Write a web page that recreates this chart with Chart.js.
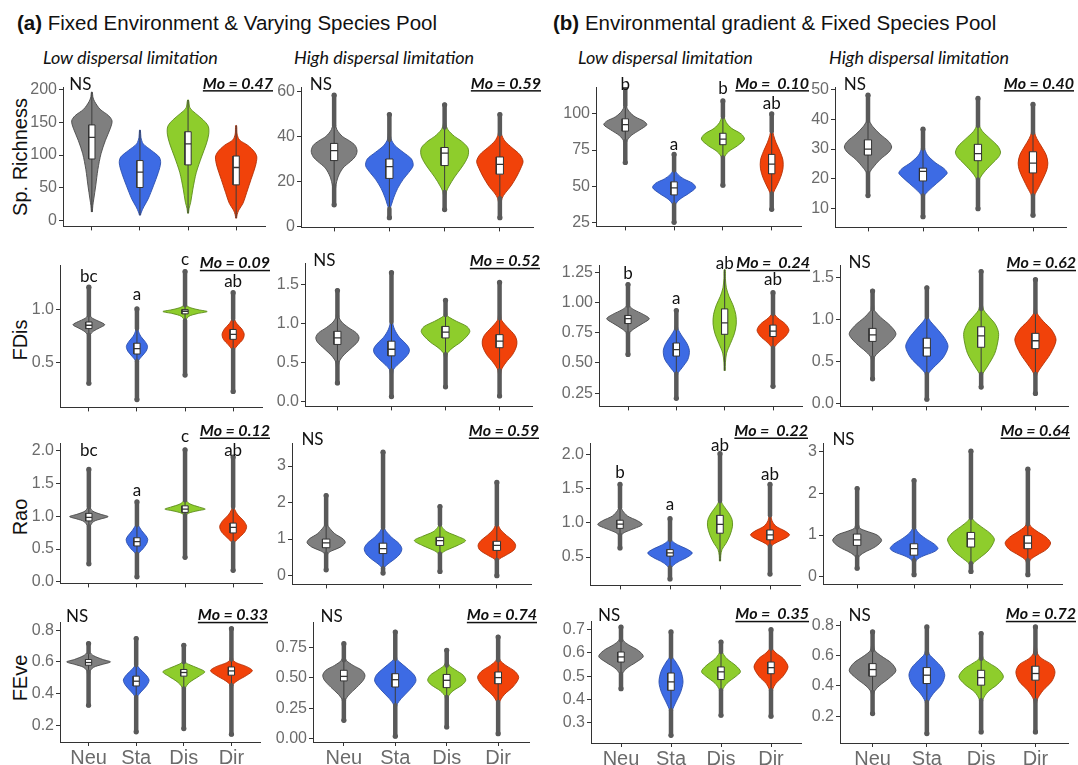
<!DOCTYPE html>
<html><head><meta charset="utf-8">
<script src="https://cdn.jsdelivr.net/npm/chart.js@4.4.0/dist/chart.umd.min.js"></script>
<style>
body{margin:0;background:#fff;width:1078px;height:765px;position:relative;overflow:hidden;font-family:'Liberation Sans',Arial,sans-serif}
.t{position:absolute;white-space:nowrap;color:#111}
.h{font-size:20.5px;line-height:24px;top:11px}
.s{font-family:Lato,sans-serif;font-style:italic;font-size:18px;line-height:22px;top:46px;color:#111}
.yt{font-size:20px;line-height:22px;transform:translate(-50%,-50%) rotate(-90deg);left:20px}
.pn{position:absolute}
</style></head>
<body>
<div class="t h" style="left:17px"><b>(a)</b> Fixed Environment &amp; Varying Species Pool</div>
<div class="t h" style="left:553px"><b>(b)</b> Environmental gradient &amp; Fixed Species Pool</div>
<div class="t s" style="left:43px">Low dispersal limitation</div>
<div class="t s" style="left:294px">High dispersal limitation</div>
<div class="t s" style="left:578px">Low dispersal limitation</div>
<div class="t s" style="left:829px">High dispersal limitation</div>
<div class="t yt" style="top:157px">Sp. Richness</div>
<div class="t yt" style="top:340px">FDis</div>
<div class="t yt" style="top:517px">Rao</div>
<div class="t yt" style="top:678px">FEve</div>
<script>
const groups = ['Neu','Sta','Dis','Dir'];

// ---- Species richness, (a) low / high, (b) low / high ----
// box: [q1, median, q3]; rng: [min, lower whisker, upper whisker, max]; shp: violin outline knots [value, half-width]
const srAL_box = [[94,127,146],[50.5,74,91.6],[85,117,135.6],[54.5,81,98.5]];
const srAL_rng = [[13,13,196,196],[8,8,138,138],[11,11,184,184],[3.5,3.5,145,145]];
const srAL_shp = [
 [[13,.01],[23,.02],[33,.04],[53,.08],[78,.125],[102,.19],[122,.28],[140,.38],[152,.42],[160,.35],[170,.17],[182,.055],[189,.02],[196,.01]],
 [[8,.01],[13,.03],[21,.08],[33,.17],[53,.28],[73,.38],[88,.43],[97,.40],[107,.24],[117,.07],[127,.02],[138,.01]],
 [[11,.01],[18,.02],[28,.055],[48,.10],[73,.17],[97,.28],[117,.38],[132,.43],[144,.42],[154,.31],[164,.15],[172,.04],[184,.01]],
 [[3.5,.01],[9,.02],[16,.055],[26,.14],[43,.22],[63,.31],[83,.40],[97,.43],[105,.38],[115,.24],[123,.07],[132,.02],[145,.01]]];
const srAL_ticks = [0,50,100,150,200];

const srAH_box = [[29.3,33.7,36.9],[21.4,26.6,30],[27.1,32.6,35.1],[23.3,27.6,30.9]];
const srAH_rng = [[9.7,18.3,44.7,58.3],[4,8,38.5,49.7],[7.6,15.4,44,54],[4,12.6,41,49.7]];
const srAH_shp = [
 [[9.7,.012],[14,.015],[18,.03],[22,.07],[26,.16],[29,.3],[31,.38],[33.5,.415],[36,.38],[38,.28],[40,.15],[43,.05],[46,.02],[52,.013],[58.3,.012]],
 [[4,.012],[8,.015],[10,.04],[13,.08],[17,.15],[21,.25],[24,.35],[27,.43],[30,.40],[33,.25],[36,.10],[39,.03],[44,.013],[49.7,.012]],
 [[7.6,.012],[12,.014],[15.4,.03],[18,.08],[22,.18],[26,.3],[29,.38],[32,.43],[35,.42],[38,.3],[40,.18],[43,.06],[46,.02],[54,.012]],
 [[4,.012],[9,.015],[12.6,.04],[15,.1],[18,.2],[22,.3],[26,.38],[29,.42],[32,.36],[35,.22],[38,.09],[41,.03],[45,.013],[49.7,.012]]];
const srAH_ticks = [0,20,40,60];

const srBL_box = [[88.1,92.6,96.6],[44,48.9,53],[78.7,82.5,86.6],[58.6,65.3,72]];
const srBL_rng = [[66.4,81,105.6,119],[25,37.3,61,72],[50.7,69.8,98,109],[34,45,88,100]];
const srBL_shp = [
 [[66.4,.012],[75,.014],[81,.03],[85,.12],[89,.3],[92.5,.44],[95,.38],[98,.2],[102,.07],[105.6,.02],[112,.013],[119,.012]],
 [[25,.012],[31,.014],[37.3,.03],[41,.12],[45,.3],[49,.44],[52,.38],[55,.2],[58,.08],[61,.025],[66,.013],[72,.012]],
 [[50.7,.012],[60,.014],[69.8,.03],[74,.12],[78,.3],[82.5,.44],[86,.38],[90,.18],[94,.07],[98,.025],[103,.013],[109,.012]],
 [[34,.012],[40,.014],[45,.03],[50,.1],[56,.18],[62,.23],[68,.23],[74,.17],[80,.09],[85,.04],[89,.018],[95,.013],[100,.012]]];
const srBL_ticks = [25,50,75,100];
const srBL_letters = ['b','a','b','ab'];
const srBL_letterY = [120.2,78.7,117.5,107.4];

const srBH_box = [[28,30,33.1],[19.3,22.5,23.6],[26.1,28.5,31.6],[22,25.3,29.1]];
const srBH_rng = [[14.4,22,39.4,48.1],[7.3,14.4,30.2,36.7],[10,19.8,37.8,47],[7.8,14.4,35.5,45]];
const srBH_shp = [
 [[14.4,.012],[18,.014],[22,.03],[24,.1],[26.5,.22],[29,.38],[30.7,.43],[32.5,.38],[35,.22],[37.5,.09],[39.4,.03],[43,.013],[48.1,.012]],
 [[7.3,.012],[11,.014],[14.4,.03],[16,.1],[18.5,.25],[21,.4],[22,.44],[23.5,.38],[25.5,.22],[28,.08],[30.2,.03],[33,.013],[36.7,.012]],
 [[10,.012],[15,.014],[19.8,.03],[22,.1],[25,.25],[27.5,.38],[29,.41],[31,.36],[33.5,.22],[36,.08],[37.8,.03],[42,.013],[47,.012]],
 [[7.8,.012],[11,.014],[14.4,.03],[17,.1],[20,.18],[23,.25],[25.3,.27],[28,.24],[31,.15],[33.5,.07],[35.5,.03],[40,.013],[45,.012]]];
const srBH_ticks = [10,20,30,40,50];

// ---- FDis ----
const fdAL_box = [[0.824,0.855,0.886],[0.583,0.633,0.685],[0.963,0.988,1.003],[0.722,0.769,0.815]];
const fdAL_rng = [[0.306,0.762,0.95,1.216],[0.151,0.515,0.824,1.01],[0.383,0.90,1.046,1.364],[0.228,0.623,0.917,1.164]];
const fdAL_shp = [
 [[0.306,.012],[0.5,.013],[0.762,.03],[0.8,.1],[0.83,.22],[0.86,.33],[0.89,.22],[0.92,.08],[0.95,.025],[1.05,.013],[1.216,.012]],
 [[0.151,.012],[0.35,.013],[0.515,.03],[0.56,.1],[0.61,.19],[0.655,.22],[0.7,.17],[0.75,.08],[0.8,.03],[0.9,.013],[1.01,.012]],
 [[0.383,.012],[0.5,.013],[0.9,.02],[0.94,.08],[0.965,.25],[0.985,.46],[1.0,.3],[1.02,.12],[1.046,.03],[1.15,.013],[1.364,.012]],
 [[0.228,.012],[0.45,.013],[0.623,.03],[0.67,.1],[0.72,.2],[0.77,.23],[0.82,.18],[0.87,.08],[0.917,.025],[1.0,.013],[1.164,.012]]];
const fdAL_ticks = [0.5,1.0];
const fdAL_letters = ['bc','a','c','ab'];
const fdAL_letterY = [1.318,1.148,1.479,1.266];

const fdAH_box = [[0.731,0.815,0.9],[0.584,0.669,0.773],[0.815,0.89,0.963],[0.689,0.774,0.857]];
const fdAH_rng = [[0.236,0.5,1.09,1.425],[0.059,0.395,1.02,1.656],[0.185,0.605,1.11,1.3],[0.067,0.395,1.068,1.53]];
const fdAH_shp = [
 [[0.236,.012],[0.36,.013],[0.5,.03],[0.58,.1],[0.68,.25],[0.76,.37],[0.82,.40],[0.88,.35],[0.95,.2],[1.02,.08],[1.09,.025],[1.25,.013],[1.425,.012]],
 [[0.059,.012],[0.2,.013],[0.395,.03],[0.46,.1],[0.55,.24],[0.62,.32],[0.67,.33],[0.73,.28],[0.82,.15],[0.92,.06],[1.02,.02],[1.3,.013],[1.656,.012]],
 [[0.185,.012],[0.4,.013],[0.605,.03],[0.68,.12],[0.76,.28],[0.84,.4],[0.9,.45],[0.96,.4],[1.03,.2],[1.08,.07],[1.11,.025],[1.2,.013],[1.3,.012]],
 [[0.067,.012],[0.2,.013],[0.395,.03],[0.5,.12],[0.6,.24],[0.7,.31],[0.775,.32],[0.85,.28],[0.95,.15],[1.02,.06],[1.068,.025],[1.3,.013],[1.53,.012]]];
const fdAH_ticks = [0,0.5,1.0,1.5];

const fdBL_box = [[0.825,0.865,0.892],[0.556,0.61,0.664],[0.736,0.83,0.946],[0.718,0.763,0.812]];
const fdBL_rng = [[0.57,0.744,0.973,1.147],[0.207,0.409,0.785,0.932],[0.435,0.435,1.27,1.27],[0.306,0.624,0.906,1.08]];
const fdBL_shp = [
 [[0.57,.012],[0.66,.013],[0.744,.03],[0.78,.12],[0.83,.32],[0.865,.44],[0.9,.32],[0.94,.12],[0.973,.03],[1.05,.013],[1.147,.012]],
 [[0.207,.012],[0.3,.013],[0.409,.03],[0.46,.12],[0.53,.24],[0.6,.27],[0.66,.22],[0.72,.12],[0.785,.03],[0.85,.013],[0.932,.012]],
 [[0.435,.012],[0.5,.015],[0.58,.04],[0.66,.12],[0.74,.2],[0.82,.24],[0.9,.23],[0.98,.17],[1.05,.09],[1.12,.035],[1.2,.015],[1.27,.012]],
 [[0.306,.012],[0.45,.013],[0.624,.03],[0.67,.12],[0.72,.26],[0.77,.33],[0.82,.26],[0.87,.1],[0.906,.03],[1.0,.013],[1.08,.012]]];
const fdBL_ticks = [0.25,0.5,0.75,1.0,1.25];
const fdBL_letters = ['b','a','ab','ab'];
const fdBL_letterY = [1.242,1.032,1.323,1.188];

const fdBH_box = [[0.744,0.821,0.899],[0.569,0.666,0.782],[0.674,0.809,0.918],[0.658,0.752,0.84]];
const fdBH_rng = [[0.298,0.55,1.13,1.345],[0.054,0.356,1.035,1.383],[0.2,0.356,1.13,1.577],[0.124,0.356,1.092,1.48]];
const fdBH_shp = [
 [[0.298,.012],[0.42,.013],[0.55,.03],[0.62,.12],[0.72,.3],[0.83,.43],[0.93,.33],[1.03,.15],[1.1,.05],[1.13,.025],[1.25,.013],[1.345,.012]],
 [[0.054,.012],[0.2,.013],[0.356,.03],[0.43,.12],[0.55,.3],[0.68,.39],[0.78,.33],[0.9,.18],[0.98,.07],[1.035,.025],[1.2,.013],[1.383,.012]],
 [[0.2,.012],[0.28,.013],[0.356,.03],[0.45,.12],[0.6,.25],[0.75,.31],[0.85,.32],[0.95,.26],[1.05,.13],[1.13,.04],[1.3,.013],[1.577,.012]],
 [[0.124,.012],[0.25,.013],[0.356,.03],[0.45,.12],[0.6,.28],[0.76,.38],[0.88,.3],[0.98,.15],[1.05,.06],[1.092,.025],[1.3,.013],[1.48,.012]]];
const fdBH_ticks = [0,0.5,1.0,1.5];

// ---- Rao ----
const raoAL_box = [[0.93,0.985,1.045],[0.547,0.612,0.672],[1.06,1.11,1.16],[0.746,0.831,0.896]];
const raoAL_rng = [[0.274,0.846,1.144,1.716],[0.075,0.423,0.87,1.22],[0.373,1.02,1.244,2.015],[0.174,0.597,1.144,1.905]];
const raoAL_shp = [
 [[0.274,.012],[0.55,.013],[0.846,.03],[0.92,.1],[0.96,.25],[0.995,.40],[1.03,.25],[1.08,.08],[1.144,.025],[1.4,.013],[1.716,.012]],
 [[0.075,.012],[0.25,.013],[0.423,.03],[0.5,.12],[0.58,.2],[0.645,.225],[0.7,.19],[0.78,.1],[0.87,.03],[1.0,.013],[1.22,.012]],
 [[0.373,.012],[0.6,.013],[1.02,.03],[1.06,.12],[1.09,.3],[1.11,.42],[1.14,.3],[1.19,.1],[1.244,.03],[1.6,.013],[2.015,.012]],
 [[0.174,.012],[0.4,.013],[0.597,.03],[0.67,.12],[0.76,.24],[0.845,.28],[0.93,.22],[1.02,.1],[1.1,.035],[1.144,.02],[1.5,.013],[1.905,.012]]];
const raoAL_ticks = [0,0.5,1.0,1.5,2.0];
const raoAL_letters = ['bc','a','c','ab'];
const raoAL_letterY = [2.004,1.393,2.213,2.004];

const raoAH_box = [[0.764,0.897,1.0],[0.604,0.737,0.888],[0.826,0.96,1.05],[0.69,0.826,0.94]];
const raoAH_rng = [[0.16,0.6,1.4,2.19],[0.07,0.2,1.31,3.38],[0.115,0.6,1.4,1.89],[0.0,0.43,1.4,2.55]];
const raoAH_shp = [
 [[0.16,.012],[0.4,.013],[0.6,.03],[0.68,.1],[0.78,.25],[0.9,.335],[1.0,.3],[1.15,.15],[1.3,.06],[1.4,.025],[1.8,.013],[2.19,.012]],
 [[0.07,.012],[0.2,.02],[0.3,.07],[0.45,.2],[0.6,.3],[0.74,.33],[0.88,.28],[1.05,.15],[1.2,.06],[1.31,.025],[2.0,.013],[3.38,.012]],
 [[0.115,.012],[0.35,.013],[0.6,.03],[0.7,.12],[0.82,.3],[0.96,.45],[1.08,.3],[1.2,.12],[1.32,.04],[1.4,.02],[1.89,.012]],
 [[0.0,.012],[0.2,.013],[0.43,.03],[0.55,.15],[0.7,.3],[0.83,.33],[0.96,.28],[1.1,.17],[1.25,.07],[1.4,.025],[2.0,.013],[2.55,.012]]];
const raoAH_ticks = [0,1,2,3];

const raoBL_box = [[0.919,0.98,1.038],[0.514,0.561,0.609],[0.848,0.976,1.109],[0.752,0.823,0.895]];
const raoBL_rng = [[0.633,0.823,1.228,1.561],[0.18,0.348,0.752,1.061],[0.44,0.44,1.32,2.01],[0.252,0.657,1.109,1.561]];
const raoBL_shp = [
 [[0.633,.012],[0.72,.013],[0.823,.03],[0.87,.12],[0.93,.33],[0.976,.445],[1.03,.35],[1.1,.15],[1.18,.05],[1.228,.025],[1.4,.013],[1.561,.012]],
 [[0.18,.012],[0.27,.013],[0.348,.03],[0.42,.14],[0.5,.35],[0.56,.445],[0.62,.33],[0.68,.15],[0.75,.03],[0.9,.013],[1.061,.012]],
 [[0.44,.012],[0.52,.015],[0.61,.04],[0.7,.12],[0.82,.2],[0.95,.25],[1.05,.24],[1.15,.17],[1.25,.07],[1.32,.025],[1.6,.013],[2.01,.012]],
 [[0.252,.012],[0.45,.013],[0.657,.03],[0.72,.15],[0.78,.32],[0.825,.39],[0.88,.3],[0.95,.12],[1.03,.04],[1.109,.02],[1.3,.013],[1.561,.012]]];
const raoBL_ticks = [0.5,1.0,1.5,2.0];
const raoBL_letters = ['b','a','ab','ab'];
const raoBL_letterY = [1.737,1.261,2.133,1.704];

const raoBH_box = [[0.753,0.885,1.023],[0.52,0.675,0.792],[0.714,0.908,1.062],[0.674,0.807,0.984]];
const raoBH_rng = [[0.21,0.48,1.178,2.11],[0.055,0.4,1.178,2.3],[0.133,0.327,1.41,3.0],[0.055,0.4,1.256,2.57]];
const raoBH_shp = [
 [[0.21,.012],[0.35,.013],[0.48,.03],[0.58,.12],[0.72,.32],[0.87,.43],[1.0,.35],[1.1,.15],[1.178,.04],[1.5,.013],[2.11,.012]],
 [[0.055,.012],[0.2,.013],[0.4,.04],[0.5,.16],[0.6,.35],[0.68,.42],[0.78,.36],[0.92,.2],[1.05,.08],[1.178,.025],[1.7,.013],[2.3,.012]],
 [[0.133,.012],[0.23,.013],[0.327,.04],[0.45,.15],[0.62,.3],[0.8,.39],[0.91,.41],[1.05,.33],[1.2,.18],[1.33,.06],[1.41,.025],[2.2,.013],[3.0,.012]],
 [[0.055,.012],[0.2,.013],[0.4,.04],[0.52,.16],[0.66,.33],[0.81,.40],[0.95,.32],[1.1,.15],[1.256,.03],[1.9,.013],[2.57,.012]]];
const raoBH_ticks = [0,1,2,3];

// ---- FEve ----
const feAL_box = [[0.579,0.596,0.615],[0.448,0.478,0.51],[0.51,0.533,0.552],[0.516,0.543,0.568]];
const feAL_rng = [[0.326,0.537,0.663,0.716],[0.158,0.379,0.58,0.747],[0.179,0.432,0.6,0.705],[0.143,0.453,0.615,0.81]];
const feAL_shp = [
 [[0.326,.012],[0.45,.013],[0.537,.03],[0.565,.1],[0.585,.3],[0.6,.46],[0.615,.3],[0.64,.1],[0.663,.025],[0.69,.013],[0.716,.012]],
 [[0.158,.012],[0.28,.013],[0.379,.03],[0.41,.1],[0.45,.22],[0.485,.27],[0.52,.2],[0.555,.08],[0.58,.025],[0.65,.013],[0.747,.012]],
 [[0.179,.012],[0.3,.013],[0.432,.03],[0.47,.12],[0.51,.32],[0.537,.44],[0.56,.3],[0.585,.1],[0.6,.03],[0.65,.013],[0.705,.012]],
 [[0.143,.012],[0.3,.013],[0.453,.03],[0.48,.12],[0.515,.32],[0.545,.44],[0.57,.32],[0.595,.1],[0.615,.03],[0.7,.013],[0.81,.012]]];
const feAL_ticks = [0.2,0.4,0.6,0.8];

const feAH_box = [[0.473,0.51,0.56],[0.423,0.483,0.532],[0.418,0.478,0.526],[0.45,0.5,0.546]];
const feAH_rng = [[0.15,0.314,0.642,0.778],[0.02,0.273,0.655,0.874],[0.095,0.341,0.6,0.724],[0.04,0.3,0.642,0.833]];
const feAH_shp = [
 [[0.15,.012],[0.23,.013],[0.314,.03],[0.36,.1],[0.42,.25],[0.48,.38],[0.52,.41],[0.56,.35],[0.6,.18],[0.64,.05],[0.68,.016],[0.778,.012]],
 [[0.02,.012],[0.15,.013],[0.273,.03],[0.33,.12],[0.4,.28],[0.47,.4],[0.52,.37],[0.58,.22],[0.63,.08],[0.655,.03],[0.75,.013],[0.874,.012]],
 [[0.095,.012],[0.22,.013],[0.341,.03],[0.39,.12],[0.44,.3],[0.478,.37],[0.52,.32],[0.56,.18],[0.6,.05],[0.64,.016],[0.724,.012]],
 [[0.04,.012],[0.18,.013],[0.3,.03],[0.36,.12],[0.43,.3],[0.5,.40],[0.55,.33],[0.6,.15],[0.642,.04],[0.7,.014],[0.833,.012]]];
const feAH_ticks = [0,0.25,0.5,0.75];

const feBL_box = [[0.561,0.583,0.604],[0.44,0.476,0.514],[0.486,0.519,0.54],[0.511,0.537,0.561]];
const feBL_rng = [[0.447,0.511,0.655,0.711],[0.247,0.354,0.583,0.69],[0.333,0.44,0.604,0.647],[0.329,0.44,0.619,0.7]];
const feBL_shp = [
 [[0.447,.012],[0.48,.013],[0.511,.03],[0.535,.12],[0.56,.3],[0.585,.445],[0.61,.35],[0.635,.15],[0.655,.04],[0.68,.015],[0.711,.012]],
 [[0.247,.012],[0.3,.013],[0.354,.03],[0.39,.1],[0.43,.19],[0.475,.24],[0.52,.2],[0.56,.1],[0.583,.03],[0.63,.013],[0.69,.012]],
 [[0.333,.012],[0.39,.013],[0.44,.03],[0.47,.12],[0.5,.3],[0.52,.39],[0.545,.3],[0.575,.12],[0.6,.035],[0.625,.013],[0.647,.012]],
 [[0.329,.012],[0.39,.013],[0.44,.03],[0.47,.1],[0.5,.24],[0.54,.34],[0.575,.25],[0.6,.1],[0.619,.03],[0.66,.013],[0.7,.012]]];
const feBL_ticks = [0.3,0.4,0.5,0.6,0.7];

const feBH_box = [[0.464,0.508,0.547],[0.416,0.471,0.521],[0.405,0.455,0.503],[0.438,0.482,0.53]];
const feBH_rng = [[0.218,0.36,0.635,0.756],[0.086,0.295,0.613,0.789],[0.097,0.306,0.58,0.745],[0.097,0.306,0.613,0.789]];
const feBH_shp = [
 [[0.218,.012],[0.3,.013],[0.36,.03],[0.4,.12],[0.45,.3],[0.5,.43],[0.55,.35],[0.6,.15],[0.635,.04],[0.7,.013],[0.756,.012]],
 [[0.086,.012],[0.2,.013],[0.295,.03],[0.35,.12],[0.41,.27],[0.47,.33],[0.52,.28],[0.57,.15],[0.613,.04],[0.7,.013],[0.789,.012]],
 [[0.097,.012],[0.2,.013],[0.306,.03],[0.36,.12],[0.41,.3],[0.46,.41],[0.51,.32],[0.55,.15],[0.58,.04],[0.66,.013],[0.745,.012]],
 [[0.097,.012],[0.2,.013],[0.306,.03],[0.37,.14],[0.43,.3],[0.49,.36],[0.54,.3],[0.58,.12],[0.613,.04],[0.7,.013],[0.789,.012]]];
const feBH_ticks = [0.2,0.4,0.6,0.8];

const moText = ['Mo = 0.47','Mo = 0.59','Mo =  0.10','Mo = 0.40','Mo = 0.09','Mo = 0.52','Mo =  0.24','Mo = 0.62',
                'Mo = 0.12','Mo = 0.59','Mo =  0.22','Mo = 0.64','Mo = 0.33','Mo = 0.74','Mo =  0.35','Mo = 0.72'];

// ---- layout (pixel frames of each panel) ----
const FILL = ['#7f7f7f','#3d6be4','#8ecd2c','#f1420a'];
const EDGE = ['#4a4a4a','#2b4fae','#5c8c1c','#b33006'];
const NS_DY = [-2.5,-2.3,-3,-5];
const MO_BASE = [1.6,3.3,-7,-1.7];

const panels = [
 {box:srAL_box,rng:srAL_rng,shp:srAL_shp,ticks:srAL_ticks,dec:0,ymin:-8.9,ymax:203.9,L:63.3,s:48.1,T:86.7,B:230,row:0,mo:moText[0]},
 {box:srAH_box,rng:srAH_rng,shp:srAH_shp,ticks:srAH_ticks,dec:0,ymin:-0.3,ymax:61.9,L:301,s:55.3,T:86.7,B:231,row:0,mo:moText[1]},
 {box:srBL_box,rng:srBL_rng,shp:srBL_shp,ticks:srBL_ticks,dec:0,ymin:22.2,ymax:118.6,L:595.6,s:48.7,T:87.3,B:230.7,row:0,mo:moText[2],letters:srBL_letters,letterY:srBL_letterY},
 {box:srBH_box,rng:srBH_rng,shp:srBH_shp,ticks:srBH_ticks,dec:0,ymin:3.7,ymax:50.85,L:835,s:55,T:86.7,B:231,row:0,mo:moText[3]},
 {box:fdAL_box,rng:fdAL_rng,shp:fdAL_shp,ticks:fdAL_ticks,dec:1,ymin:0.077,ymax:1.426,L:59.5,s:48,T:265,B:410.7,row:1,mo:moText[4],letters:fdAL_letters,letterY:fdAL_letterY},
 {box:fdAH_box,rng:fdAH_rng,shp:fdAH_shp,ticks:fdAH_ticks,dec:1,ymin:-0.067,ymax:1.78,L:304.7,s:54.1,T:263.3,B:410,row:1,mo:moText[5]},
 {box:fdBL_box,rng:fdBL_rng,shp:fdBL_shp,ticks:fdBL_ticks,dec:2,ymin:0.14,ymax:1.309,L:598.6,s:48.3,T:265,B:410,row:1,mo:moText[6],letters:fdBL_letters,letterY:fdBL_letterY},
 {box:fdBH_box,rng:fdBH_rng,shp:fdBH_shp,ticks:fdBH_ticks,dec:1,ymin:-0.031,ymax:1.655,L:839.7,s:54.4,T:265,B:410,row:1,mo:moText[7]},
 {box:raoAL_box,rng:raoAL_rng,shp:raoAL_shp,ticks:raoAL_ticks,dec:1,ymin:-0.025,ymax:2.12,L:59.5,s:48,T:443,B:586.7,row:2,mo:moText[8],letters:raoAL_letters,letterY:raoAL_letterY},
 {box:raoAH_box,rng:raoAH_rng,shp:raoAH_shp,ticks:raoAH_ticks,dec:0,ymin:-0.24,ymax:3.63,L:292,s:57,T:443.3,B:588.3,row:2,mo:moText[9]},
 {box:raoBL_box,rng:raoBL_rng,shp:raoBL_shp,ticks:raoBL_ticks,dec:1,ymin:0.086,ymax:2.166,L:590,s:50,T:442.7,B:588.3,row:2,mo:moText[10],letters:raoBL_letters,letterY:raoBL_letterY},
 {box:raoBH_box,rng:raoBH_rng,shp:raoBH_shp,ticks:raoBH_ticks,dec:0,ymin:-0.177,ymax:3.195,L:823,s:57,T:443.3,B:588.3,row:2,mo:moText[11]},
 {box:feAL_box,rng:feAL_rng,shp:feAL_shp,ticks:feAL_ticks,dec:1,ymin:0.094,ymax:0.852,L:59.5,s:47.5,T:621.7,B:741.7,row:3,mo:moText[12]},
 {box:feAH_box,rng:feAH_rng,shp:feAH_shp,ticks:feAH_ticks,dec:2,ymin:-0.028,ymax:0.956,L:313,s:51.5,T:621.7,B:741.7,row:3,mo:moText[13]},
 {box:feBL_box,rng:feBL_rng,shp:feBL_shp,ticks:feBL_ticks,dec:1,ymin:0.214,ymax:0.737,L:590.7,s:50,T:620.7,B:742.7,row:3,mo:moText[14]},
 {box:feBH_box,rng:feBH_rng,shp:feBH_shp,ticks:feBH_ticks,dec:1,ymin:0.024,ymax:0.828,L:839.7,s:54.4,T:620.7,B:742.7,row:3,mo:moText[15]}
];

const annot = {
  id: 'annot',
  afterDatasetsDraw(chart, args, o) {
    const ctx = chart.ctx, a = chart.chartArea, xs = chart.scales.x, ys = chart.scales.y;
    ctx.save();
    ctx.fillStyle = '#111';
    ctx.font = '17px Lato';
    ctx.textAlign = 'center'; ctx.textBaseline = 'middle';
    if (o.letters) {
      o.letters.forEach((t, i) => ctx.fillText(t, xs.getPixelForValue(i + 1), ys.getPixelForValue(o.letterY[i])));
    } else {
      ctx.fillText('NS', xs.getPixelForValue(0.76), a.top + NS_DY[o.row]);
    }
    ctx.font = 'italic bold 16px Lato';
    ctx.textAlign = 'right'; ctx.textBaseline = 'alphabetic';
    const xr = a.right + 8, yb = a.top + MO_BASE[o.row];
    ctx.fillText(o.mo, xr, yb);
    const w = ctx.measureText(o.mo).width;
    ctx.fillRect(xr - w, yb + 1.5, w, 1.5);
    ctx.restore();
  }
};

function buildDatasets(p) {
  const ds = [];
  const bw = 0.065;
  p.shp.forEach((knots, i) => {
    const c = i + 1;
    const left = knots.map(k => ({x: c - k[1], y: k[0]}));
    const right = knots.slice().reverse().map(k => ({x: c + k[1], y: k[0]}));
    ds.push({data: left.concat(right), showLine: true, fill: 'shape', backgroundColor: FILL[i],
      borderColor: EDGE[i], borderWidth: 0.9, pointRadius: 0, tension: 0.3, order: 6});
    const [mn, wl, wh, mx] = p.rng[i];
    ds.push({data: [{x: c, y: wl}, {x: c, y: wh}], showLine: true, borderColor: '#3d3d3d', borderWidth: 1, pointRadius: 0, order: 5});
    if (wl - mn > 1e-9) {
      ds.push({data: [{x: c, y: mn}, {x: c, y: wl}], showLine: true, borderColor: '#595959', borderWidth: 4.5,
        borderCapStyle: 'round', pointRadius: [2.6, 0], pointBackgroundColor: '#595959', pointBorderWidth: 0, order: 4});
    }
    if (mx - wh > 1e-9) {
      ds.push({data: [{x: c, y: wh}, {x: c, y: mx}], showLine: true, borderColor: '#595959', borderWidth: 4.5,
        borderCapStyle: 'round', pointRadius: [0, 2.6], pointBackgroundColor: '#595959', pointBorderWidth: 0, order: 4});
    }
    const [q1, md, q3] = p.box[i];
    ds.push({data: [{x: c - bw, y: q1}, {x: c + bw, y: q1}, {x: c + bw, y: q3}, {x: c - bw, y: q3}, {x: c - bw, y: q1}],
      showLine: true, fill: 'shape', backgroundColor: '#ffffff', borderColor: '#333', borderWidth: 1, pointRadius: 0, tension: 0, order: 2});
    ds.push({data: [{x: c - bw, y: md}, {x: c + bw, y: md}], showLine: true, borderColor: '#333', borderWidth: 1.3, pointRadius: 0, order: 1});
  });
  return ds;
}

panels.forEach(p => {
  const padL = 50, padT = 42, padR = 14, xh = p.row === 3 ? 30 : 8;
  const cw = Math.round(padL + 4.2 * p.s + padR);
  const ch = Math.round(padT + (p.B - p.T) + xh);
  const div = document.createElement('div');
  div.className = 'pn';
  div.style.left = (p.L - padL) + 'px';
  div.style.top = (p.T - padT) + 'px';
  div.style.width = cw + 'px'; div.style.height = ch + 'px';
  const cv = document.createElement('canvas');
  cv.width = cw; cv.height = ch;
  cv.style.width = cw + 'px'; cv.style.height = ch + 'px';
  div.appendChild(cv);
  document.body.appendChild(div);
  new Chart(cv, {
    type: 'scatter',
    data: {datasets: buildDatasets(p)},
    plugins: [annot],
    options: {
      responsive: false, animation: false, devicePixelRatio: 1,
      layout: {padding: {left: 0, top: padT, right: padR, bottom: 0}},
      elements: {line: {capBezierPoints: false}},
      plugins: {legend: {display: false}, tooltip: {enabled: false},
        annot: {row: p.row, mo: p.mo, letters: p.letters, letterY: p.letterY}},
      scales: {
        x: {type: 'linear', min: 0.4, max: 4.6,
          afterBuildTicks: s => { s.ticks = [1, 2, 3, 4].map(v => ({value: v})); },
          afterFit: s => { s.height = xh; },
          grid: {drawOnChartArea: false, drawTicks: true, tickLength: 4, color: '#333'},
          border: {display: true, color: '#333', width: 1},
          ticks: {display: p.row === 3, padding: 0, autoSkip: false, maxRotation: 0, color: '#6b6b6b',
            font: {family: "'Liberation Sans', Arial", size: 20}, callback: v => groups[v - 1]}},
        y: {type: 'linear', min: p.ymin, max: p.ymax,
          afterBuildTicks: s => { s.ticks = p.ticks.map(v => ({value: v})); },
          afterFit: s => { s.width = padL; },
          grid: {drawOnChartArea: false, drawTicks: true, tickLength: 4, color: '#333'},
          border: {display: true, color: '#333', width: 1},
          ticks: {padding: 2, color: '#6b6b6b', font: {family: "'Liberation Sans', Arial", size: 16},
            callback: v => Number(v).toFixed(p.dec)}}
      }
    }
  });
});
</script>
</body></html>
